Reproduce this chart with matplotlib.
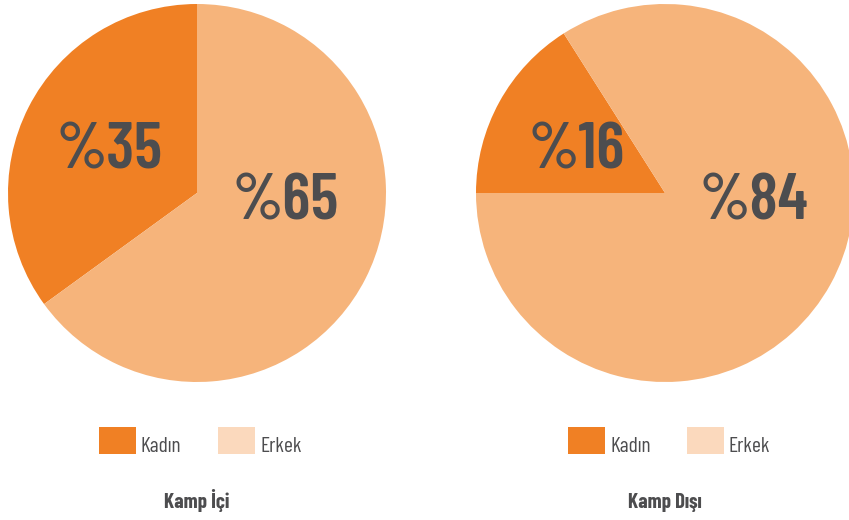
import matplotlib
matplotlib.use("Agg")
import matplotlib.pyplot as plt
from matplotlib.patches import Rectangle

W, H = 849, 520

CATEGORIES = ["Kadın", "Erkek"]
KAMP_ICI = [35, 65]
KAMP_DISI = [16, 84]
TITLES = ["Kamp İçi", "Kamp Dışı"]

PIE_COLORS = ["#F08024", "#F6B47B"]
LEGEND_COLORS = ["#F08024", "#FBD9BD"]
TEXT_COLOR = "#4D4D4F"
FONT = ["Barlow Condensed", "DejaVu Sans"]

plt.rcParams["font.family"] = FONT

fig = plt.figure(figsize=(W / 100, H / 100), dpi=100)


def px_axes(cx, cy, r):
    # axes box around a circle given in pixel coords (y from top)
    return fig.add_axes([(cx - r) / W, (H - cy - r) / H, 2 * r / W, 2 * r / H])


def draw_pie(cx, values, start, ccw, title, legend_x):
    ax = px_axes(cx, 193, 189)
    ax.pie(values, colors=PIE_COLORS, startangle=start, counterclock=ccw,
           radius=1, wedgeprops=dict(linewidth=0))
    ax.set_xlim(-1, 1)
    ax.set_ylim(-1, 1)
    ax.set_aspect("equal")
    ax.axis("off")

    ax.text(-0.465, 0.132, f"%{values[0]}", ha="center", va="baseline",
            fontsize=47, fontweight="semibold", color=TEXT_COLOR)
    ax.text(0.47, -0.138, f"%{values[1]}", ha="center", va="baseline",
            fontsize=47, fontweight="semibold", color=TEXT_COLOR)

    # legend
    for i, (name, col) in enumerate(zip(CATEGORIES, LEGEND_COLORS)):
        x0 = legend_x + i * 119
        fig.add_artist(Rectangle((x0 / W, (H - 454) / H), 37 / W, 27 / H,
                                 transform=fig.transFigure, color=col, lw=0))
        fig.text((x0 + 42) / W, (H - 452.5) / H, name, ha="left", va="baseline",
                 fontsize=15.5, fontweight="normal", color=TEXT_COLOR)

    fig.text(cx / W, (H - 507.5) / H, title, ha="center", va="baseline",
             fontsize=15, fontweight="bold", color=TEXT_COLOR)


draw_pie(197, KAMP_ICI, 90, True, TITLES[0], 99)
draw_pie(665, KAMP_DISI, 180, False, TITLES[1], 568)

fig.savefig("out.png", dpi=100, facecolor="white")
